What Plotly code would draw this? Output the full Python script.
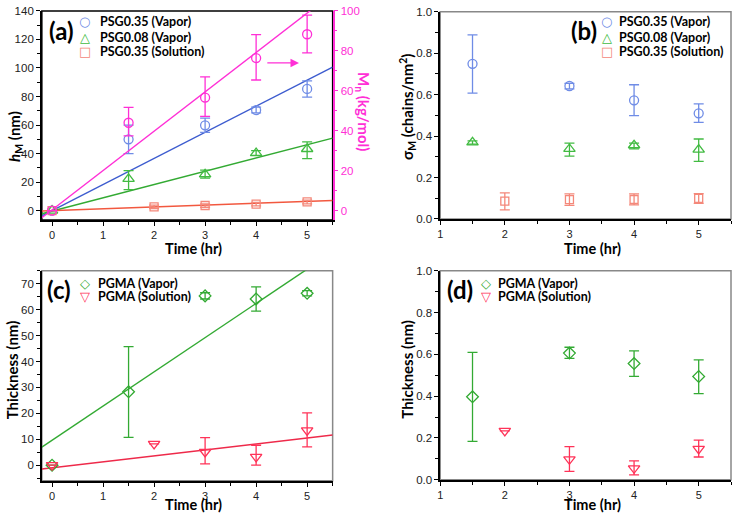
import plotly.graph_objects as go

# ---------------- data ----------------
# panel (a)
t_a = [0, 1.5, 3, 4, 5]
hM_psg035_vap = [0, 50, 59.8, 70.5, 85.3]
hM_psg035_vap_err = [0, 10, 5, 2, 5.7]
hM_psg008_vap = [0, 22.3, 25.5, 40.3, 43.2]
hM_psg008_vap_errp = [0, 5.7, 2.9, 1.7, 5.0]
hM_psg008_vap_errm = [0, 7.5, 2.7, 1.6, 6.8]
t_a_sol = [0, 2, 3, 4, 5]
hM_psg035_sol = [0, 2.7, 3.6, 4.6, 6.1]
hM_psg035_sol_err = [0, 1.2, 1.2, 1.2, 1.3]
Mn = [0, 44.0, 56.6, 76.4, 88.3]
Mn_errp = [0, 7.7, 10.4, 11.7, 9.6]
Mn_errm = [0, 6.6, 9.4, 11.0, 9.3]
# fit lines (slope, intercept)
fit_psg035_vap = (18.3, 0.0)
fit_psg008_vap = (9.3, -0.3)
fit_psg035_sol = (1.3, 0.0)
fit_Mn = (19.7, 0.4)

# panel (b)
t_b = [1.5, 3, 4, 5]
sig_psg035_vap = [0.749, 0.642, 0.573, 0.510]
sig_psg035_vap_errp = [0.140, 0.013, 0.075, 0.046]
sig_psg035_vap_errm = [0.141, 0.014, 0.074, 0.044]
sig_psg008_vap = [0.370, 0.338, 0.356, 0.335]
sig_psg008_vap_errp = [0.007, 0.028, 0.010, 0.051]
sig_psg008_vap_errm = [0.009, 0.035, 0.018, 0.057]
t_b_sol = [2, 3, 4, 5]
sig_psg035_sol = [0.086, 0.093, 0.094, 0.099]
sig_psg035_sol_errp = [0.040, 0.028, 0.027, 0.023]
sig_psg035_sol_errm = [0.042, 0.027, 0.026, 0.024]

# panel (c)
t_c = [0, 1.5, 3, 4, 5]
thk_pgma_vap = [0, 28.3, 65.3, 64.1, 66.3]
thk_pgma_vap_errp = [0, 17.4, 1.2, 4.7, 1.0]
thk_pgma_vap_errm = [0, 17.6, 1.2, 4.7, 1.0]
t_c_sol = [0, 2, 3, 4, 5]
thk_pgma_sol = [0, 8.2, 5.1, 3.2, 13.4]
thk_pgma_sol_errp = [0, 0, 5.5, 4.5, 6.8]
thk_pgma_sol_errm = [0, 0, 4.6, 3.2, 6.3]
fit_pgma_vap = (13.2, 9.6)
fit_pgma_sol = (2.3, -1.0)

# panel (d)
t_d = [1.5, 3, 4, 5]
d_pgma_vap = [0.397, 0.606, 0.556, 0.494]
d_pgma_vap_errp = [0.212, 0.028, 0.061, 0.080]
d_pgma_vap_errm = [0.213, 0.025, 0.061, 0.082]
t_d_sol = [2, 3, 4, 5]
d_pgma_sol = [0.234, 0.098, 0.055, 0.148]
d_pgma_sol_errp = [0, 0.061, 0.035, 0.042]
d_pgma_sol_errm = [0, 0.058, 0.032, 0.039]

xr_full = [-0.2, 5.5]
xr_late = [1, 5.5]

legend_ab = ["PSG0.35 (Vapor)", "PSG0.08 (Vapor)", "PSG0.35 (Solution)"]
legend_cd = ["PGMA (Vapor)", "PGMA (Solution)"]

# --------------- styling ---------------
W, H = 732, 519
BLUE_M, BLUE_L = "#6f8ce6", "#3d5ccf"
GREEN_M, GREEN_L = "#42bb42", "#33aa33"
SAL_M, SAL_L = "#f4887a", "#f2583f"
PINK = "#ff2fd6"
RED_M, RED_L = "#ff3358", "#ee2a4a"
TFONT = "Liberation Sans"
BFONT = "Lato"


def px(x):
    return x / W


def py(y):
    return 1 - y / H


fig = go.Figure()


def pts(x, y, color, symbol, size, xa, ya, name, ep=None, em=None):
    err = None
    if ep is not None:
        err = dict(type="data", symmetric=False, array=ep, arrayminus=em,
                   color=color, thickness=1.3, width=5)
    fig.add_trace(go.Scatter(
        x=x, y=y, mode="markers", xaxis=xa, yaxis=ya,
        marker=dict(symbol=symbol, size=size, color=color, line=dict(color=color, width=1.3)),
        error_y=err, name=name, showlegend=False))


def fitline(fit, xr, color, xa, ya):
    s, b = fit
    fig.add_trace(go.Scatter(
        x=xr, y=[s * v + b for v in xr], mode="lines", xaxis=xa, yaxis=ya,
        line=dict(color=color, width=1.4), showlegend=False, hoverinfo="skip"))


# (a)
fitline(fit_Mn, xr_full, PINK, "x", "y5")
fitline(fit_psg035_vap, xr_full, BLUE_L, "x", "y")
fitline(fit_psg008_vap, xr_full, GREEN_L, "x", "y")
fitline(fit_psg035_sol, xr_full, SAL_L, "x", "y")
pts(t_a, hM_psg035_vap, BLUE_M, "circle-open", 9, "x", "y", legend_ab[0],
    hM_psg035_vap_err, hM_psg035_vap_err)
pts(t_a, hM_psg008_vap, GREEN_M, "triangle-up-open", 10, "x", "y", legend_ab[1],
    hM_psg008_vap_errp, hM_psg008_vap_errm)
pts(t_a_sol, hM_psg035_sol, SAL_M, "square-open", 8, "x", "y", legend_ab[2],
    hM_psg035_sol_err, hM_psg035_sol_err)
pts(t_a, Mn, PINK, "circle-open", 9, "x", "y5", "Mn", Mn_errp, Mn_errm)

# (b)
pts(t_b, sig_psg035_vap, BLUE_M, "circle-open", 9, "x2", "y2", legend_ab[0],
    sig_psg035_vap_errp, sig_psg035_vap_errm)
pts(t_b, sig_psg008_vap, GREEN_M, "triangle-up-open", 10, "x2", "y2", legend_ab[1],
    sig_psg008_vap_errp, sig_psg008_vap_errm)
pts(t_b_sol, sig_psg035_sol, SAL_M, "square-open", 8, "x2", "y2", legend_ab[2],
    sig_psg035_sol_errp, sig_psg035_sol_errm)

# (c)
fitline(fit_pgma_vap, xr_full, GREEN_L, "x3", "y3")
fitline(fit_pgma_sol, xr_full, RED_L, "x3", "y3")
pts(t_c, thk_pgma_vap, GREEN_L, "diamond-open", 9, "x3", "y3", legend_cd[0],
    thk_pgma_vap_errp, thk_pgma_vap_errm)
pts(t_c_sol, thk_pgma_sol, RED_M, "triangle-down-open", 10, "x3", "y3", legend_cd[1],
    thk_pgma_sol_errp, thk_pgma_sol_errm)

# (d)
pts(t_d, d_pgma_vap, GREEN_L, "diamond-open", 9, "x4", "y4", legend_cd[0],
    d_pgma_vap_errp, d_pgma_vap_errm)
pts(t_d_sol, d_pgma_sol, RED_M, "triangle-down-open", 10, "x4", "y4", legend_cd[1],
    d_pgma_sol_errp, d_pgma_sol_errm)


def xax(dom, rng, anchor):
    return dict(domain=dom, range=rng, anchor=anchor, dtick=1, tick0=0,
                showgrid=False, zeroline=False, showline=True, linecolor="black", linewidth=1.5,
                ticks="outside", ticklen=4, tickwidth=1.2, tickcolor="black",
                minor=dict(dtick=0.5, tick0=0, ticks="outside", ticklen=3, tickcolor="black", showgrid=False),
                tickfont=dict(family=TFONT, size=11, color="#222"))


def yax(dom, rng, anchor, dt, mdt, color="black"):
    return dict(domain=dom, range=rng, anchor=anchor, dtick=dt, tick0=0,
                showgrid=False, zeroline=False, showline=True, linecolor=color, linewidth=1.5,
                ticks="outside", ticklen=4, tickwidth=1.2, tickcolor=color,
                minor=dict(dtick=mdt, tick0=0, ticks="outside", ticklen=3, tickcolor=color, showgrid=False),
                tickfont=dict(family=TFONT, size=11.5, color="#222" if color == "black" else color))


L_DOM = [px(39), px(331)]
R_DOM = [px(439), px(731)]
T_DOM_A = [py(219), py(5)]
T_DOM_B = [py(218), py(6)]
B_DOM_C = [py(486), py(271)]
B_DOM_D = [py(485), py(271)]

yr_a = [-6.5, 140]
yr_mn = [v * 100 / 140 for v in yr_a]

layout = dict(
    width=W, height=H, margin=dict(l=0, r=0, t=0, b=0),
    paper_bgcolor="white", plot_bgcolor="white", showlegend=False,
    xaxis=xax(L_DOM, xr_full, "y"),
    yaxis=yax(T_DOM_A, yr_a, "x", 20, 10),
    yaxis5=dict(yax(T_DOM_A, yr_mn, "x", 20, 10, PINK), overlaying="y", side="right"),
    xaxis2=xax(R_DOM, xr_late, "y2"),
    yaxis2=yax(T_DOM_B, [0, 1], "x2", 0.2, 0.1),
    xaxis3=xax(L_DOM, xr_full, "y3"),
    yaxis3=yax(B_DOM_C, [-6, 75], "x3", 10, 5),
    xaxis4=xax(R_DOM, xr_late, "y4"),
    yaxis4=yax(B_DOM_D, [0, 1], "x4", 0.2, 0.1),
)
layout["yaxis2"]["tickformat"] = ".1f"
layout["yaxis4"]["tickformat"] = ".1f"

shapes = []
for xa, ya, col in [("x", "y", "black"), ("x2", "y2", "#888"), ("x3", "y3", "#888"), ("x4", "y4", "#888")]:
    shapes.append(dict(type="rect", xref=xa + " domain", yref=ya + " domain", x0=0, x1=1, y0=0, y1=1,
                       line=dict(color=col, width=1.5), layer="below"))
layout["shapes"] = shapes

ann = []


def txt(x, y, s, size=15, angle=0, color="black", xanchor="center", family=BFONT):
    ann.append(dict(x=px(x), y=py(y), xref="paper", yref="paper", text=s, showarrow=False,
                    textangle=angle, font=dict(family=family, size=size, color=color),
                    xanchor=xanchor, yanchor="middle", borderpad=0))


txt(191, 248, "<b>Time (hr)</b>", size=14.5)
txt(592, 248, "<b>Time (hr)</b>", size=14.5)
txt(191, 510, "<b>Time (hr)</b>", size=14.5)
txt(592, 510, "<b>Time (hr)</b>", size=14.5)
txt(12, 133, "<b><i>h</i><sub>M</sub> (nm)</b>", angle=-90)
txt(406, 103, "<b>σ<sub>M</sub> (chains/nm<sup>2</sup>)</b>", angle=-90)
txt(9, 372, "<b>Thickness (nm)</b>", angle=-90)
txt(406, 372, "<b>Thickness (nm)</b>", angle=-90)
txt(362, 108, "<b>M<sub>n</sub> (kg/mol)</b>", angle=90, color=PINK)
txt(59, 25, "<b>(a)</b>", size=24)
txt(583, 25, "<b>(b)</b>", size=24)
txt(56, 290, "<b>(c)</b>", size=24)
txt(459, 290, "<b>(d)</b>", size=24)

# legends: colored key glyph + bold label
GLYPH = "DejaVu Sans"
keys_ab = [("○", BLUE_M, 13), ("△", GREEN_M, 13), ("□", SAL_M, 13)]
keys_cd = [("◇", GREEN_L, 13), ("▽", RED_M, 13)]
for (gx, tx, rows) in [(82, 96, [16, 32, 47]), (606, 618, [16, 32, 47])]:
    for (g, c, s), lab, ry in zip(keys_ab, legend_ab, rows):
        txt(gx, ry, g, size=s, color=c, family=GLYPH)
        txt(tx, ry, "<b>" + lab + "</b>", size=12.5, xanchor="left")
for (gx, tx, rows) in [(82, 94, [284, 297]), (485, 496, [284, 297])]:
    for (g, c, s), lab, ry in zip(keys_cd, legend_cd, rows):
        txt(gx, ry, g, size=s, color=c, family=GLYPH)
        txt(tx, ry, "<b>" + lab + "</b>", size=12.5, xanchor="left")

# arrow pointing to right axis in (a)
ann.append(dict(x=4.84, y=103.5, ax=4.19, ay=103.5, xref="x", yref="y", axref="x", ayref="y",
                text="", showarrow=True, arrowhead=2, arrowsize=1.3, arrowwidth=1.3, arrowcolor=PINK))
layout["annotations"] = ann

fig.update_layout(**layout)
fig.write_html("out.html", config={"displayModeBar": False},
               post_script="document.body.style.margin='0';document.body.style.overflow='hidden';")
